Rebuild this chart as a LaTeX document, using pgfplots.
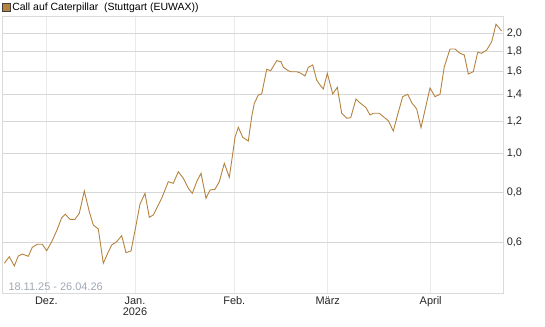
\documentclass[border=0pt]{standalone}
\usepackage{fontspec}
\setmainfont{Liberation Sans}
\usepackage{pgfplots}
\pgfplotsset{compat=1.18}
\definecolor{linebrown}{RGB}{181,131,62}
\definecolor{ygrid}{RGB}{215,215,215}
\definecolor{xgrid}{RGB}{234,234,234}
\definecolor{frame}{RGB}{218,218,218}
\definecolor{datetxt}{RGB}{160,168,180}
\begin{document}
\begin{tikzpicture}
\path[use as bounding box] (0,0) rectangle (545bp,327bp);
\begin{axis}[
  at={(2.7bp,33.7bp)}, anchor=south west,
  scale only axis, width=500.6bp, height=277.3bp,
  ymode=log,
  xmin=2.7, xmax=503.3, ymin=0.4464, ymax=2.2053,
  xtick={46.3,135,234.3,327.7,430.7},
  xticklabels={Dez.,{Jan.\\2026},Feb.,März,April},
  ytick={0.6,0.8,1.0,1.2,1.4,1.6,1.8,2.0},
  yticklabels={{0,6},{0,8},{1,0},{1,2},{1,4},{1,6},{1,8},{2,0}},
  yticklabel pos=right,
  major tick length=0pt, minor tick num=0,
  ymajorgrids, xmajorgrids,
  y grid style={ygrid, line width=0.9bp},
  x grid style={xgrid, line width=0.9bp},
  axis line style={frame, line width=0.9bp},
  tick label style={font=\fontsize{11}{11.6}\selectfont, text=black!85},
  xticklabel style={align=center, yshift=0bp},
  yticklabel style={xshift=0bp},
  legend style={at={(0,1)}, anchor=south west, draw=none, fill=none,
    inner sep=0pt, outer sep=0pt, xshift=-1bp, yshift=2bp,
    font=\fontsize{10.5}{12}\selectfont},
  legend cell align=left,
  legend image code/.code={\draw[fill=linebrown, draw=black!75, line width=0.8bp] (0bp,-3.9bp) rectangle (7.8bp,3.9bp);},
  clip=false,
]
\addplot[linebrown, line width=0.9bp] coordinates {
(4.3,0.5307) (9.3,0.5512) (14.3,0.5225) (18.3,0.5534) (22.3,0.5598) (28.3,0.5525)
(32.3,0.5819) (37.3,0.5921) (42.3,0.5921) (46.7,0.5706) (51.7,0.6010) (56.7,0.6403)
(61.7,0.6900) (65.3,0.7037) (70,0.6837) (75,0.6837) (79.3,0.7078) (84.3,0.8048)
(89.3,0.7143) (93.3,0.6617) (98.3,0.6466) (103.3,0.5307) (107.7,0.5621) (111.7,0.5897)
(116.7,0.6010) (121.7,0.6221) (126,0.5641) (131,0.5696) (135.7,0.6541) (140,0.7467)
(145,0.7942) (149.3,0.6916) (153.3,0.7009) (161.7,0.7717) (168.3,0.8491) (173.3,0.8413)
(178.3,0.8994) (183.3,0.8659) (188.3,0.8174) (192.3,0.7942) (196.7,0.8491) (201,0.8912)
(206,0.7717) (210,0.8094) (215,0.8127) (219.3,0.8491) (224.3,0.9440) (229.3,0.8709)
(232.3,0.9806) (235,1.0966) (238.3,1.1616) (242.7,1.0966) (248.3,1.0734) (251.7,1.2347)
(254.3,1.3338) (258.3,1.3991) (261.7,1.4072) (266.7,1.6223) (270.7,1.6093) (276.7,1.7047)
(281,1.6949) (283.3,1.6412) (288.3,1.6093) (290.7,1.6000) (296.7,1.6000) (301,1.5854)
(305,1.5609) (308.3,1.6412) (312.7,1.6630) (316.7,1.5254) (320,1.4820) (323.3,1.4483)
(327.3,1.5854) (332.7,1.4072) (337.3,1.4626) (341.7,1.2591) (346.7,1.2234) (350.7,1.2276)
(356,1.3673) (359.3,1.3415) (362.7,1.3207) (366,1.3004) (370,1.2469) (373.3,1.2591)
(379.3,1.2591) (383.3,1.2347) (388.3,1.2066) (393.3,1.1371) (398.3,1.2664) (402.7,1.3854)
(407.7,1.4048) (411.7,1.3384) (416.7,1.2907) (421,1.1589) (425,1.2833) (430,1.4567)
(435,1.3854) (440,1.4048) (444.3,1.6467) (450,1.8236) (455,1.8236) (460,1.7790)
(464.3,1.7617) (468.3,1.5790) (473.3,1.6000) (477.7,1.7893) (481.7,1.7790) (486.7,1.8131)
(491.7,1.9019) (496,2.1025) (501.7,2.0229)
};
\addlegendentry{Call auf Caterpillar\ \ (Stuttgart (EUWAX))}
\node[anchor=west, inner sep=0pt, text=datetxt, font=\fontsize{11}{12}\selectfont]
  at (rel axis cs:0.0112,0.0238) {18.11.25 - 26.04.26};
\end{axis}
\end{tikzpicture}
\end{document}
